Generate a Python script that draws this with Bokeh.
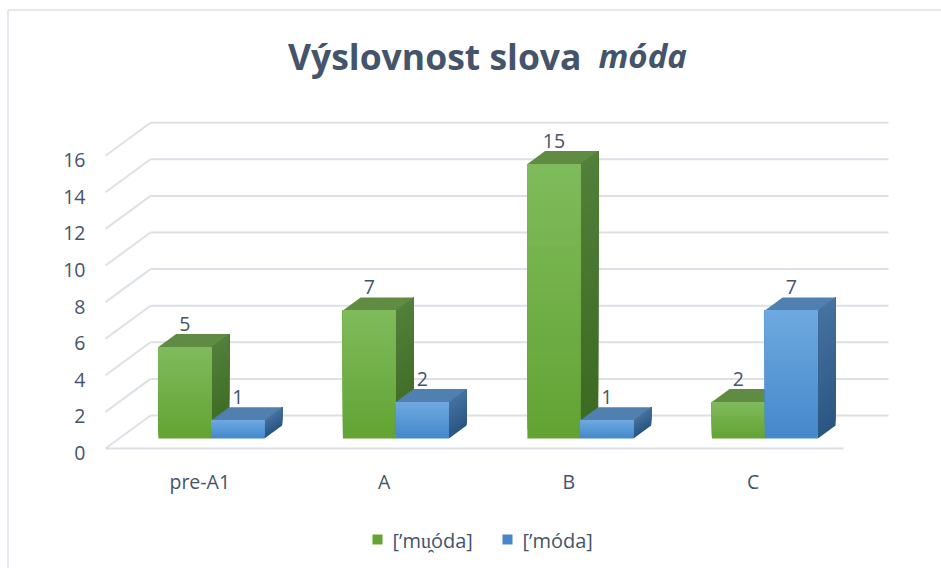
import numpy as np
from bokeh.plotting import figure
from bokeh.models import Range1d
from bokeh.embed import file_html
from bokeh.resources import INLINE
from bokeh.core.properties import value

# ---------------- data ----------------
categories = ["pre-A1", "A", "B", "C"]
series_names = ["[\u2019mu\u032f\u00f3da]", "[\u2019m\u00f3da]"]
muoda = [5, 7, 15, 2]
moda = [1, 2, 1, 7]
y_ticks = [0, 2, 4, 6, 8, 10, 12, 14, 16]
title_main = "Výslovnost slova"
title_italic = "móda"

# ---------------- layout (page pixels) ----------------
W, H = 941, 568
MARGIN = 0
SX = 184.5      # px per category slot
SY = 18.3       # px per value unit
X0 = 105.0      # page x of floor front-left corner
Y0 = 448.0      # page y of value 0 on the front edge
FONT = "Open Sans"
TXT = "#44546A"
GRID = "#DCE1E8"
TSHIFT = 5.0    # baseline correction (px)


def px(x):
    return (x - X0) / SX


def py(y):
    return (Y0 - y) / SY


DEPTH_X = 45.0 / SX
DEPTH_Y = 33.0 / SY
F0, F1 = 10.0 / 33.0, 23.0 / 33.0
BAR_W = 53.0 / SX

p = figure(width=W, height=H, output_backend="svg", toolbar_location=None,
           x_range=Range1d(px(MARGIN), px(MARGIN + W)),
           y_range=Range1d(py(MARGIN + H), py(MARGIN)),
           min_border=0, x_axis_location=None, y_axis_location=None)
p.grid.visible = False
p.outline_line_color = None
p.background_fill_color = "white"
p.border_fill_color = "white"

# chart border (top / left)
p.line([px(7.5), px(7.5)], [py(9.5), py(568)], line_color="#DCE2EA", line_width=1.5)
p.line([px(7.5), px(941)], [py(9.5), py(9.5)], line_color="#DCE2EA", line_width=1.5)

# ---------------- 3D gridlines ----------------
n = len(categories)
for v in y_ticks:
    p.line([0, DEPTH_X], [v, v + DEPTH_Y], line_color=GRID, line_width=2)
    p.line([DEPTH_X, n + DEPTH_X], [v + DEPTH_Y, v + DEPTH_Y], line_color=GRID, line_width=2)
p.line([0, n], [0, 0], line_color=GRID, line_width=2)


def hex2rgb(h):
    h = h.lstrip("#")
    return np.array([int(h[i:i + 2], 16) for i in (0, 2, 4)], dtype=float)


def mix(c1, c2, t):
    c = hex2rgb(c1) * (1 - t) + hex2rgb(c2) * t
    return "#%02x%02x%02x" % tuple(int(round(x)) for x in c)


styles = [
    dict(front_top="#80BB5C", front_bot="#62A333", top="#5F8C42",
         side_top="#52803A", side_bot="#3C6921"),
    dict(front_top="#6EAAE0", front_bot="#4487CB", top="#5080B0",
         side_top="#46729F", side_bot="#2B5682"),
]

NB = 30
bdx = (F1 - F0) * DEPTH_X
bdy = (F1 - F0) * DEPTH_Y
base = F0 * DEPTH_Y

for i in range(n):
    center = i + 0.5 + F0 * DEPTH_X
    for s, vals in enumerate([muoda, moda]):
        v = vals[i]
        st = styles[s]
        left = center - BAR_W if s == 0 else center
        right = left + BAR_W
        top = base + v
        ys = np.linspace(base, top, NB + 1)
        # side face: nested bands (each covers from its start up to the top) -> no seams
        sxs, sys_, scol = [], [], []
        for k in range(NB):
            a = ys[k]
            sxs.append([right, right + bdx, right + bdx, right])
            sys_.append([a, a + bdy, top + bdy, top])
            scol.append(mix(st["side_bot"], st["side_top"], (k + 0.5) / NB))
        p.patches(sxs, sys_, fill_color=scol, line_color=None)
        # top face
        p.patch([left, right, right + bdx, left + bdx], [top, top, top + bdy, top + bdy],
                fill_color=st["top"], line_color=None)
        # front face: nested bands
        fcol = [mix(st["front_bot"], st["front_top"], (k + 0.5) / NB) for k in range(NB)]
        p.quad(left=[left] * NB, right=[right] * NB, bottom=ys[:-1], top=[top] * NB,
               fill_color=fcol, line_color=None)
        # data label
        p.text([(left + right) / 2], [top + bdy + (5.0 + TSHIFT) / SY], text=[str(v)],
               text_font=value(FONT), text_font_size="19.5px", text_color=TXT,
               text_align="center", text_baseline="alphabetic")

# ---------------- y tick labels ----------------
p.text([px(85)] * len(y_ticks), [t - (9.5 - TSHIFT) / SY for t in y_ticks],
       text=[str(t) for t in y_ticks],
       text_font=value(FONT), text_font_size="19.5px", text_color=TXT,
       text_align="right", text_baseline="alphabetic")

# ---------------- category labels ----------------
p.text([i + 0.5 + 2.0 / SX for i in range(n)], [py(486 - TSHIFT)] * n, text=categories,
       text_font=value(FONT), text_font_size="19.5px", text_color=TXT,
       text_align="center", text_baseline="alphabetic")

# ---------------- title ----------------
p.text([px(581)], [py(65 - TSHIFT - 5)], text=[title_main], text_font=value(FONT),
       text_font_size="35.5px", text_font_style="bold", text_color=TXT,
       text_align="right", text_baseline="alphabetic")
p.text([px(598)], [py(65 - TSHIFT - 5)], text=[title_italic], text_font=value(FONT),
       text_font_size="33px", text_font_style="bold italic", text_color=TXT,
       text_align="left", text_baseline="alphabetic")

# ---------------- legend ----------------
leg_sq_x = [377, 507]
leg_tx_x = [392, 522]
p.scatter([px(x) for x in leg_sq_x], [py(539)] * 2, marker="square", size=10,
          fill_color=[styles[0]["front_bot"], styles[1]["front_bot"]], line_color=None)
p.text([px(x) for x in leg_tx_x], [py(545 - TSHIFT)] * 2, text=series_names,
       text_font=value(FONT), text_font_size="20px", text_color=TXT,
       text_align="left", text_baseline="alphabetic")

open("out.html", "w").write(file_html(p, INLINE))
